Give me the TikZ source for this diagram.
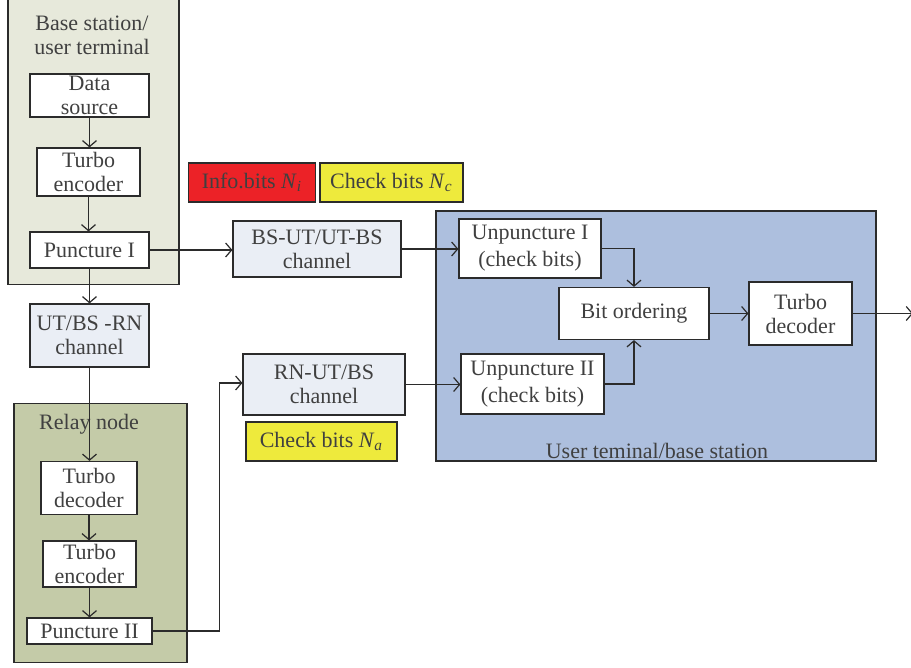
\documentclass[tikz,border=0pt]{standalone}
\usepackage{fontspec}
\setmainfont{Liberation Serif}
\usepackage{xcolor}
\definecolor{bsnen}{HTML}{E7E9DB}
\definecolor{rnnen}{HTML}{C4CBA8}
\definecolor{utnen}{HTML}{ADBFDE}
\definecolor{kenh}{HTML}{EAEEF5}
\definecolor{dodo}{HTML}{EC2227}
\definecolor{vangvang}{HTML}{EEEA3C}
\definecolor{netve}{HTML}{2B2B2B}
\def\mycolor{netve}
\usepackage{tikz}
\usetikzlibrary{calc,positioning,arrows.meta}

\begin{document}
\begin{tikzpicture}[x=0.5pt,y=-0.5pt,font=\fontsize{11}{12}\selectfont,text=\mycolor!90]
		\tikzset{
			khoi/.style={draw=\mycolor,line width=0.6pt,fill=white,inner sep=0pt,align=center},
			kenhtruyen/.style={khoi,fill=kenh},
			nhan/.style={khoi,fill=#1},
			vung/.style={draw=\mycolor,line width=0.6pt,fill=#1,inner sep=0pt},
			muiten/.style={draw=\mycolor,line width=0.6pt,-{Straight Barb[length=3pt,width=7pt]}}
		}
		\useasboundingbox (0,0) rectangle (911,668);
		%%%Vẽ các vùng nền
		\node[vung=bsnen,minimum width=85.5pt,minimum height=143pt] (bs) at (93.5,141.5) {};
		\node[vung=rnnen,minimum width=86.5pt,minimum height=129.5pt] (rn) at (100.5,533) {};
		\node[vung=utnen,minimum width=220pt,minimum height=125pt] (ut) at (656,336) {};
		\node[align=center] (bstitle) at (92,35) {Base station/\\user terminal};
		\node (rntitle) at (89,424) {Relay node};
		\node (uttitle) at (657,451) {User teminal/base station};
		%%%Khối trạm gốc
		\node[khoi,minimum width=59.5pt,minimum height=21.5pt] (ds) at (89.5,95.5) {Data\\source};
		\node[khoi,minimum width=51.5pt,minimum height=24pt] (te) at (88.5,172) {Turbo\\encoder};
		\node[khoi,minimum width=59.5pt,minimum height=18pt] (p1) at (89.5,250) {Puncture I};
		%%%Kênh truyền
		\node[kenhtruyen,minimum width=59.5pt,minimum height=31.5pt] (rnch) at (89.5,335.5) {UT/BS -RN\\channel};
		\node[kenhtruyen,minimum width=84pt,minimum height=28pt] (bsch) at (317,249) {BS-UT/UT-BS\\channel};
		\node[kenhtruyen,minimum width=81pt,minimum height=30.5pt] (utch) at (324,384.5) {RN-UT/BS\\channel};
		%%%Nhãn bit
		\node[nhan=dodo,minimum width=63.5pt,minimum height=19.5pt] (ni) at (252,182.5) {Info.bits \textit{N}\textsubscript{\textit{i}}};
		\node[nhan=vangvang,minimum width=71.5pt,minimum height=19.5pt] (nc) at (391.5,182.5) {Check bits \textit{N}\textsubscript{\textit{c}}};
		\node[nhan=vangvang,minimum width=75.5pt,minimum height=19.5pt] (na) at (321.5,441.5) {Check bits \textit{N}\textsubscript{\textit{a}}};
		%%%Khối nút chuyển tiếp
		\node[khoi,minimum width=48pt,minimum height=26.5pt] (rtd) at (89,488) {Turbo\\decoder};
		\node[khoi,minimum width=46.5pt,minimum height=23pt] (rte) at (89.5,564) {Turbo\\encoder};
		\node[khoi,minimum width=62.5pt,minimum height=13pt] (p2) at (89.5,631) {Puncture II};
		%%%Khối đầu thu
		\node[khoi,minimum width=71pt,minimum height=29.5pt,font=\fontsize{11}{13.5}\selectfont] (up1) at (530,248.5) {Unpuncture I\\(check bits)};
		\node[khoi,minimum width=71.5pt,minimum height=30pt,font=\fontsize{11}{13.5}\selectfont] (up2) at (532.5,384) {Unpuncture II\\(check bits)};
		\node[khoi,minimum width=75pt,minimum height=26pt] (bo) at (634,313.5) {Bit ordering};
		\node[khoi,minimum width=51.5pt,minimum height=31.5pt] (td) at (800.5,313.5) {Turbo\\decoder};
		\coordinate (ra) at (913,313.5);
		%%%Các mũi tên
		\draw[muiten] (ds.south) -- (ds.south |- te.north);
		\draw[muiten] (te.south) -- (te.south |- p1.north);
		\draw[muiten] (p1) -- (rnch);
		\draw[muiten] (p1.east) -- (p1.east -| bsch.west);
		\draw[muiten] (rnch.south) -- (rnch.south |- rtd.north);
		\draw[muiten] (rtd.south) -- (rtd.south |- rte.north);
		\draw[muiten] (rte) -- (p2);
		\draw[muiten] (p2.east) -| ([xshift=-11.5pt,yshift=0.75pt]utch.west) -- ([yshift=0.75pt]utch.west);
		\draw[muiten] (bsch.east) -- (bsch.east -| up1.west);
		\draw[muiten] (utch.east) -- (utch.east -| up2.west);
		\draw[muiten] (up1.east) -| (bo.north);
		\draw[muiten] (up2.east) -| (bo.south);
		\draw[muiten] (bo) -- (td);
		\draw[muiten] (td) -- (ra);
	\end{tikzpicture}
\end{document}
